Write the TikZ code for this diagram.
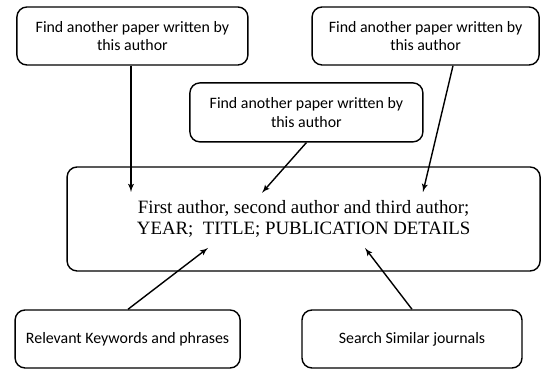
\documentclass[tikz,border=0pt]{standalone}
\usepackage{fontspec}
\setmainfont{Liberation Serif}
\newfontfamily\boxfont{Carlito}
\usetikzlibrary{arrows, calc}
\tikzset{
    >=latex',
    task/.style={draw, line width=1pt, rounded corners=0.25cm, align=center,
        font=\boxfont\fontsize{11.3}{13.3}\selectfont, inner sep=0pt},
    citation/.style={task, font=\fontsize{13.4}{14.4}\selectfont},
    link/.style={->, line width=1pt},
}

\begin{document}
\begin{tikzpicture}
    \node[task, minimum width=5.775cm, minimum height=1.45cm] (authorA) at (3.31,8.35)
        {Find another paper written by\\this author};
    \node[task, minimum width=5.675cm, minimum height=1.45cm] (authorB) at (10.64,8.35)
        {Find another paper written by\\this author};
    \node[task, minimum width=5.825cm, minimum height=1.475cm] (authorC) at (7.66,6.44)
        {Find another paper written by\\this author};
    \node[citation, minimum width=11.825cm, minimum height=2.6cm] (ref) at (7.59,3.775)
        {First author, second author and third author;\\YEAR;~ TITLE; PUBLICATION DETAILS};
    \node[task, minimum width=5.625cm, minimum height=1.45cm] (keywords) at (3.19,0.775)
        {Relevant Keywords and phrases};
    \node[task, minimum width=5.5cm, minimum height=1.45cm] (journals) at (10.3,0.775)
        {Search Similar journals};
    % arrow tips inside the reference box
    \coordinate (tipA) at (3.275,4.45);
    \coordinate (tipC) at (6.55,4.43);
    \coordinate (tipB) at (10.575,4.45);
    \coordinate (tipK) at (5.2,3.05);
    \coordinate (tipJ) at (9.125,3.05);
    \draw[link] (authorA.south -| tipA) -- (tipA);
    \draw[link] (authorC.south) -- (tipC);
    \draw[link] ($(authorB.south)+(0.685,0)$) -- (tipB);
    \draw[link] ($(keywords.north)+(0.01,0)$) -- (tipK);
    \draw[link] (journals.north) -- (tipJ);
    \useasboundingbox (0,0) rectangle (13.525,9.25);
\end{tikzpicture}
\end{document}
